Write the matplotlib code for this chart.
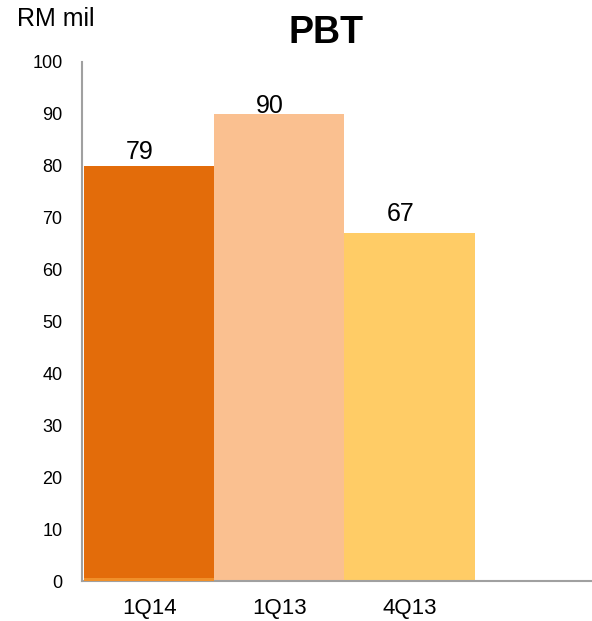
import matplotlib
matplotlib.use("Agg")
import matplotlib.pyplot as plt

plt.rcParams['font.family'] = ['Liberation Sans', 'DejaVu Sans']

categories = ["1Q14", "1Q13", "4Q13"]
bar_values = [80, 90, 67]
label_values = [79, 90, 67]
colors = ["#E36C0A", "#FAC090", "#FFCC66"]
label_offsets_px = [7, 1, 12]
yticks = list(range(0, 101, 10))

fig = plt.figure(figsize=(5.92, 6.21), dpi=100)
ax = fig.add_axes([82/592, 40/621, 1 - 82/592, (581-62)/621])

x = list(range(len(categories)))
ax.bar(x, bar_values, width=1.0, color=colors, edgecolor='none', zorder=2)
# thin lighter band at the base of the first bar
ax.bar([0], [0.6], width=1.0, color="#F0902A", edgecolor='none', zorder=3)

for xi, lv, bv, off in zip(x, label_values, bar_values, label_offsets_px):
    ax.annotate(str(lv), (xi - 0.07, bv), xytext=(0, off * 0.72), textcoords='offset points',
                ha='center', va='baseline', fontsize=18, color='black')

ax.set_xlim(-0.515, 3.4)
ax.set_ylim(0, 100)
ax.set_yticks(yticks)
ax.set_yticklabels([str(t) for t in yticks], fontsize=13)
ax.set_xticks(x)
ax.set_xticklabels(categories, fontsize=16)
ax.tick_params(axis='y', length=0, pad=14)
ax.tick_params(axis='x', length=0, pad=12)

for s in ['top', 'right']:
    ax.spines[s].set_visible(False)
for s in ['left', 'bottom']:
    ax.spines[s].set_color('#A0A0A0')
    ax.spines[s].set_linewidth(1.5)

fig.text(326/592, 1 - 33/621, "PBT", fontsize=27, fontweight='bold', ha='center', va='center')
fig.text(17/592, 1 - 19/621, "RM mil", fontsize=18, ha='left', va='center')

fig.savefig("out.png", dpi=100)
